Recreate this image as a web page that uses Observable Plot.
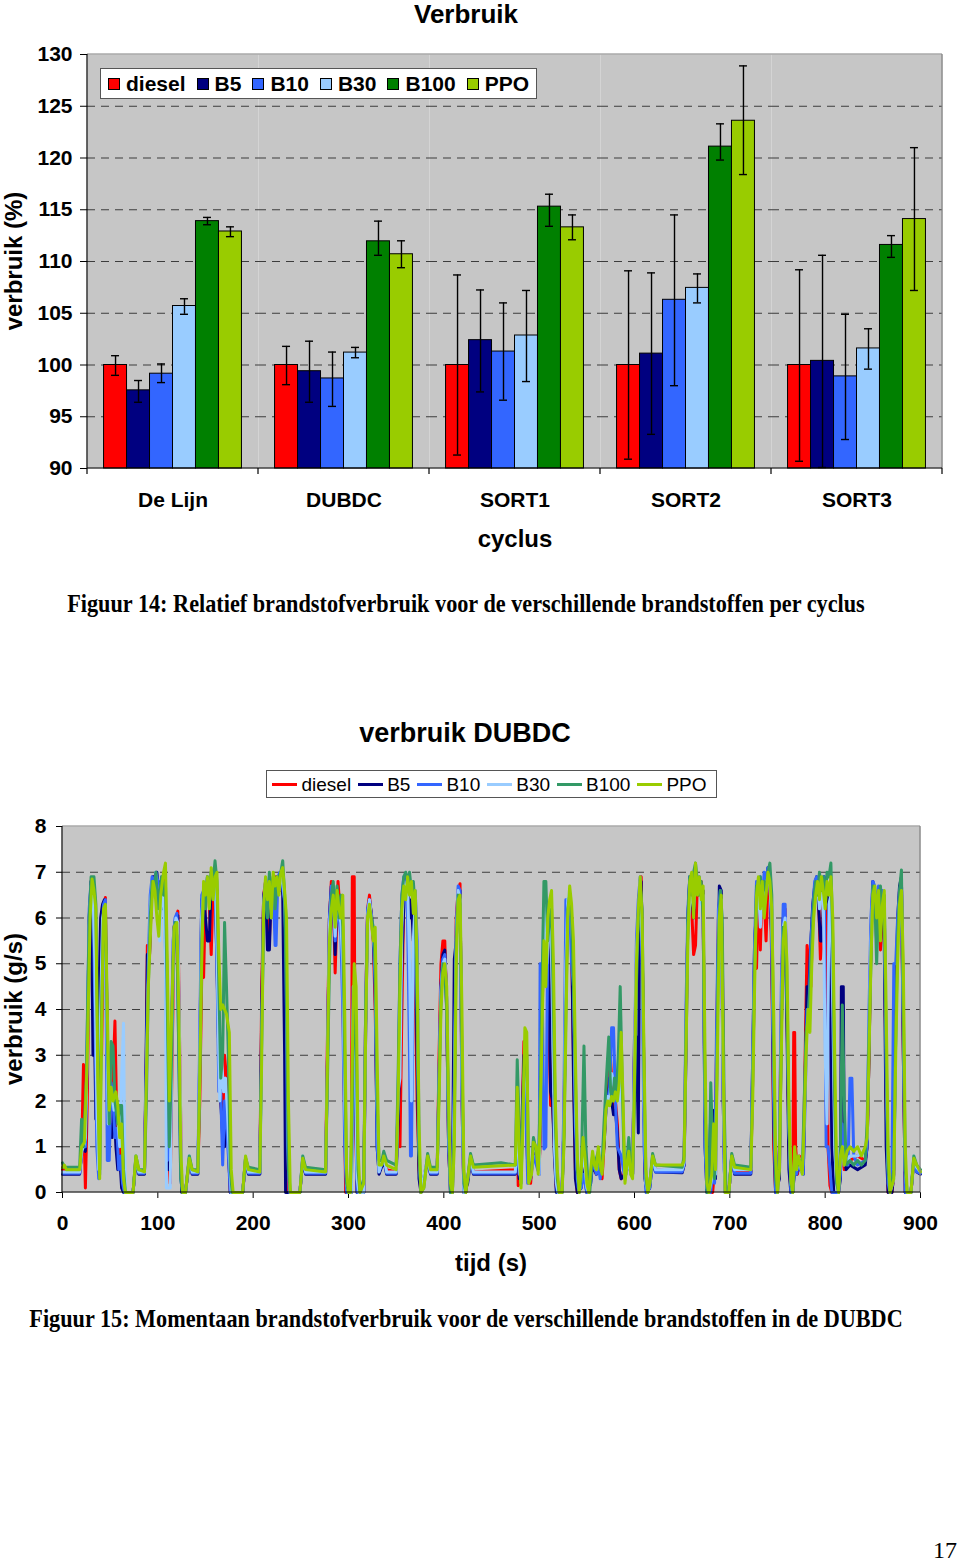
<!DOCTYPE html>
<html><head><meta charset="utf-8">
<script src="https://cdn.jsdelivr.net/npm/d3@7"></script>
<script src="https://cdn.jsdelivr.net/npm/@observablehq/plot@0.6"></script>
<style>
html,body{margin:0;padding:0;background:#fff;}
#page{position:relative;width:960px;height:1563px;overflow:hidden;font-family:'Liberation Sans',Arial,Helvetica,sans-serif;color:#000;}
.abs{position:absolute;white-space:nowrap;line-height:1;}
#page svg{position:absolute;left:0;}
.lg{position:absolute;background:#fff;border:1px solid #555;box-sizing:border-box;display:flex;align-items:center;}
.lg .it{display:flex;align-items:center;}
</style></head><body><div id="page"></div>
<script>
// ---------- Data: Figuur 14 (relatief verbruik, %) ----------
const cycli = ["De Lijn", "DUBDC", "SORT1", "SORT2", "SORT3"];
const brandstoffen = ["diesel", "B5", "B10", "B30", "B100", "PPO"];

const verbruikDiesel = [100, 100, 100, 100, 100];
const verbruikB5     = [97.55, 99.4, 102.4, 101.1, 100.4];
const verbruikB10    = [99.16, 98.7, 101.3, 106.3, 98.9];
const verbruikB30    = [105.7, 101.2, 102.85, 107.45, 101.6];
const verbruikB100   = [113.9, 111.95, 115.3, 121.1, 111.6];
const verbruikPPO    = [112.9, 110.7, 113.3, 123.6, 114.1];

const foutDiesel = [[99.0, 100.9], [98.1, 101.8], [91.3, 108.7], [90.9, 109.1], [90.7, 109.2]];
const foutB5     = [[96.4, 98.5], [96.4, 102.3], [97.4, 107.25], [93.3, 108.9], [90.1, 110.6]];
const foutB10    = [[98.3, 100.1], [96.0, 101.25], [96.6, 106.0], [98.0, 114.5], [92.8, 104.9]];
const foutB30    = [[104.9, 106.4], [100.7, 101.7], [98.4, 107.2], [106.0, 108.8], [99.6, 103.5]];
const foutB100   = [[113.55, 114.26], [110.6, 113.9], [113.4, 116.5], [119.8, 123.3], [110.4, 112.5]];
const foutPPO    = [[112.4, 113.35], [109.4, 112.0], [112.1, 114.5], [118.4, 128.9], [107.2, 121.0]];

const yTicksBalk = [90, 95, 100, 105, 110, 115, 120, 125, 130];

// ---------- Data: Figuur 15 (momentaan verbruik DUBDC, g/s) ----------
const reeksen = ["diesel", "B5", "B10", "B30", "B100", "PPO"];
const xTicksLijn = [0, 100, 200, 300, 400, 500, 600, 700, 800, 900];
const yTicksLijn = [0, 1, 2, 3, 4, 5, 6, 7, 8];

const lijnDiesel = [[0,0.5],[18,0.45],[20,0.8],[22,2.8],[23,1.0],[24,0.1],[26,2.0],[28,5.5],[30,6.8],[32,6.5],[34,5.0],[36,1.5],[38,3.0],[39,4.9],[41,3.0],[43,6.2],[45,6.45],[47,3.0],[49,1.2],[51,1.8],[53,2.5],[55,3.75],[57,1.5],[59,0.5],[61,1.0],[63,0.2],[65,0.0],[74,0.0],[77,0.75],[80,0.45],[86,0.45],[88,3.0],[89,5.4],[91,5.0],[93,6.3],[95,6.9],[97,6.5],[99,6.8],[101,6.2],[103,6.7],[105,6.4],[107,6.9],[109,5.5],[111,1.0],[113,0.2],[115,3.0],[117,5.5],[119,6.0],[121,6.15],[123,3.0],[125,0.2],[127,0.0],[129,0.0],[133,0.75],[136,0.45],[142,0.45],[144,2.0],[146,4.7],[148,4.7],[150,6.5],[152,6.8],[154,6.3],[156,5.2],[158,6.7],[160,6.9],[162,6.6],[164,4.0],[166,2.0],[168,1.5],[170,3.0],[172,2.5],[174,1.0],[176,0.0],[189,0.0],[192,0.75],[195,0.45],[207,0.45],[209,4.5],[211,6.5],[213,6.8],[215,6.5],[217,5.5],[219,6.7],[221,6.3],[223,6.9],[225,6.5],[227,6.8],[229,6.6],[231,6.9],[233,6.0],[235,1.0],[237,0.0],[249,0.0],[252,0.75],[255,0.45],[276,0.45],[278,3.5],[280,6.0],[282,6.8],[284,6.5],[286,4.8],[287,5.5],[289,6.8],[291,6.2],[293,6.0],[295,3.0],[297,0.0],[303,0.0],[304,6.9],[306,6.9],[307,2.0],[309,0.0],[316,0.0],[318,4.0],[320,6.2],[322,6.5],[324,6.0],[326,5.5],[328,4.0],[330,1.5],[332,0.5],[337,0.75],[340,0.5],[350,0.45],[352,1.9],[354,1.0],[356,4.0],[358,6.5],[360,6.8],[362,6.5],[364,6.2],[366,6.0],[368,6.3],[370,4.5],[372,2.0],[374,0.5],[376,0.0],[383,0.75],[386,0.45],[393,0.45],[395,3.0],[397,5.0],[399,5.5],[401,5.5],[403,4.0],[405,1.0],[407,0.0],[409,0.0],[411,2.0],[413,6.0],[415,6.6],[417,6.75],[419,2.0],[421,0.0],[423,0.0],[425,0.3],[428,0.75],[431,0.45],[475,0.5],[477,1.5],[478,0.15],[480,0.3],[482,1.5],[484,3.3],[486,2.5],[488,0.5],[491,0.2],[494,0.9],[497,0.8],[500,0.45],[502,2.0],[504,5.0],[506,6.5],[508,6.2],[510,4.0],[512,1.9],[514,2.0],[516,1.0],[518,0.1],[520,0.0],[524,0.0],[526,1.5],[528,5.0],[530,6.3],[532,6.5],[534,5.5],[536,3.0],[538,0.5],[540,0.0],[544,0.3],[546,0.7],[548,0.5],[550,0.0],[554,0.3],[556,0.6],[560,0.4],[562,0.8],[564,0.4],[566,0.3],[568,1.0],[570,2.0],[572,2.2],[574,3.2],[576,2.5],[578,1.8],[580,2.0],[582,1.5],[584,0.5],[586,0.3],[589,0.4],[592,0.7],[594,0.8],[596,0.4],[598,0.4],[600,3.0],[602,5.0],[603,5.5],[605,6.5],[607,6.9],[609,4.0],[611,0.5],[613,0.0],[616,0.2],[619,0.75],[622,0.5],[650,0.45],[652,0.6],[654,3.5],[656,6.0],[658,6.8],[660,6.2],[662,5.2],[664,5.4],[666,6.8],[668,6.5],[670,6.8],[672,6.0],[674,2.0],[676,0.0],[682,0.0],[684,0.5],[686,3.0],[688,6.0],[690,6.6],[692,5.5],[694,1.0],[696,0.0],[699,0.0],[702,0.75],[705,0.45],[722,0.45],[724,2.5],[726,5.0],[728,4.9],[730,6.7],[732,5.3],[734,6.8],[736,6.5],[738,5.5],[740,6.8],[742,7.0],[744,5.0],[746,1.0],[748,0.0],[750,0.0],[752,1.0],[754,4.0],[756,6.0],[758,6.2],[760,4.0],[762,1.0],[764,0.0],[766,0.0],[767,3.5],[768,3.5],[769,1.0],[771,0.4],[773,0.8],[775,0.5],[777,0.5],[779,3.0],[781,5.4],[783,5.0],[785,4.5],[787,6.0],[789,6.6],[791,6.8],[793,6.5],[795,5.1],[797,5.5],[799,6.8],[801,6.5],[803,1.0],[805,0.15],[807,0.0],[814,0.0],[816,0.7],[818,0.9],[820,0.5],[826,0.7],[834,0.8],[842,0.7],[844,1.0],[846,3.0],[848,5.5],[850,6.6],[852,6.3],[854,5.5],[856,6.4],[858,5.3],[860,6.0],[862,6.4],[864,2.0],[866,0.0],[870,0.0],[872,0.4],[874,4.0],[876,5.8],[878,6.5],[880,6.8],[882,3.0],[884,0.0],[890,0.0],[893,0.75],[896,0.5],[900,0.45]];

const lijnB5 = [[0,0.4],[18,0.4],[20,0.9],[22,1.0],[24,0.9],[26,3.0],[28,6.0],[30,6.8],[32,3.0],[34,3.0],[35,1.6],[37,1.6],[38,4.0],[40,6.0],[42,6.3],[44,6.4],[46,5.0],[48,1.0],[50,1.5],[52,1.2],[54,2.0],[56,1.0],[58,0.5],[60,0.8],[62,0.1],[64,0.0],[74,0.0],[77,0.7],[80,0.4],[86,0.4],[88,3.5],[89,5.2],[91,5.0],[93,6.4],[95,6.9],[97,6.6],[99,7.0],[101,6.5],[103,6.8],[105,6.2],[107,6.7],[109,4.0],[111,0.5],[113,0.6],[115,4.0],[117,5.8],[119,6.0],[121,6.05],[123,2.0],[125,0.0],[129,0.0],[133,0.7],[136,0.4],[142,0.4],[144,3.0],[146,6.4],[148,6.5],[150,6.0],[152,5.5],[154,5.5],[156,6.8],[158,7.0],[160,6.8],[162,5.0],[164,3.0],[166,2.0],[168,1.2],[170,1.0],[172,1.8],[174,1.0],[176,0.0],[189,0.0],[192,0.7],[195,0.4],[207,0.4],[209,4.0],[211,6.5],[213,6.7],[215,5.3],[217,5.3],[219,6.6],[221,6.8],[223,6.5],[225,6.9],[227,6.7],[229,7.0],[231,6.5],[233,3.0],[234,0.0],[249,0.0],[252,0.7],[255,0.4],[276,0.4],[278,3.0],[280,6.0],[282,6.7],[284,6.5],[286,5.2],[288,6.6],[290,6.3],[292,6.0],[294,5.5],[296,2.0],[298,0.0],[303,0.0],[305,4.5],[307,3.0],[309,0.0],[316,0.0],[318,3.5],[320,6.1],[322,6.4],[324,6.1],[326,5.6],[328,4.5],[330,1.0],[332,0.4],[337,0.7],[340,0.4],[350,0.4],[352,1.5],[354,3.0],[356,5.0],[358,6.3],[360,6.8],[362,6.9],[364,6.0],[366,6.4],[368,5.5],[370,6.0],[372,3.0],[374,0.3],[376,0.0],[383,0.7],[386,0.4],[393,0.4],[395,2.5],[397,4.5],[399,5.2],[401,5.3],[403,4.2],[405,1.0],[407,0.0],[409,0.0],[411,5.1],[413,5.5],[415,6.5],[417,6.6],[419,2.5],[421,0.0],[425,0.2],[428,0.7],[431,0.4],[475,0.4],[477,1.0],[479,0.3],[482,1.2],[484,3.0],[486,2.8],[488,0.4],[491,0.3],[494,0.9],[497,0.7],[500,0.4],[502,2.5],[504,5.0],[506,6.4],[508,6.0],[510,5.0],[512,2.2],[514,2.0],[516,0.8],[518,0.0],[524,0.0],[526,1.5],[528,4.5],[530,6.2],[532,6.4],[534,5.8],[536,2.5],[538,0.3],[540,0.0],[544,0.1],[546,0.5],[548,0.3],[550,0.0],[554,0.2],[556,0.6],[560,0.4],[562,0.7],[564,0.4],[568,1.0],[570,1.8],[572,2.0],[574,2.5],[576,2.0],[578,1.7],[580,1.8],[582,1.3],[584,0.5],[586,0.3],[590,0.4],[594,0.6],[598,0.4],[600,3.4],[602,3.4],[604,1.3],[605,5.0],[607,6.8],[609,4.0],[611,0.3],[613,0.0],[616,0.1],[619,0.7],[622,0.45],[650,0.43],[652,0.6],[654,3.0],[656,6.0],[658,6.9],[660,6.5],[662,6.0],[664,7.0],[666,6.6],[668,6.8],[670,6.5],[672,6.6],[674,1.0],[676,0.0],[678,0.0],[680,1.8],[682,1.8],[683,0.3],[685,0.3],[687,4.0],[689,6.7],[691,6.6],[693,2.0],[695,0.0],[699,0.0],[702,0.8],[705,0.4],[722,0.4],[724,3.0],[726,5.5],[728,6.2],[730,6.8],[732,6.2],[734,6.7],[736,6.4],[738,6.8],[740,7.1],[742,6.9],[744,5.5],[746,1.5],[748,0.0],[752,0.3],[754,3.5],[756,6.0],[758,6.0],[760,3.5],[762,0.5],[764,0.0],[766,0.0],[768,0.5],[770,0.4],[772,0.7],[774,0.5],[777,0.4],[779,2.5],[781,4.5],[783,4.5],[785,5.5],[787,6.3],[789,6.7],[791,6.9],[793,6.3],[795,5.5],[797,5.5],[799,6.9],[801,6.7],[803,6.5],[805,5.0],[807,1.0],[809,0.0],[814,0.0],[816,0.3],[817,4.5],[819,4.5],[820,0.8],[822,0.5],[826,0.6],[834,0.5],[842,0.6],[844,1.0],[846,3.0],[848,5.5],[850,6.8],[852,6.6],[854,5.8],[856,6.6],[858,6.0],[860,6.5],[862,5.5],[864,1.0],[866,0.0],[870,0.0],[872,0.4],[874,3.5],[876,6.0],[878,6.7],[880,6.9],[882,3.0],[884,0.0],[890,0.0],[893,0.7],[896,0.45],[900,0.4]];

const lijnB10 = [[0,0.42],[18,0.42],[20,0.8],[22,1.2],[24,1.0],[26,3.5],[28,6.2],[30,6.8],[32,6.5],[34,4.0],[36,1.0],[38,0.3],[39,0.4],[41,5.0],[43,6.3],[45,6.4],[47,0.7],[49,0.7],[51,2.4],[53,2.0],[55,1.2],[57,1.4],[59,0.5],[61,0.8],[63,0.2],[65,0.0],[74,0.0],[77,0.75],[80,0.42],[86,0.42],[88,3.0],[90,5.0],[92,6.5],[94,6.9],[96,6.7],[98,7.0],[100,6.8],[102,6.5],[104,6.9],[106,6.6],[108,6.0],[110,0.7],[112,0.8],[114,3.0],[116,5.5],[118,6.0],[120,6.1],[122,3.0],[124,0.3],[126,0.0],[129,0.0],[133,0.75],[136,0.42],[142,0.42],[144,3.5],[146,6.5],[148,6.6],[150,6.5],[152,6.9],[154,6.5],[156,7.0],[158,7.05],[160,6.9],[162,5.0],[164,2.2],[166,2.2],[168,0.6],[170,2.0],[172,1.5],[174,0.8],[176,0.0],[189,0.0],[192,0.75],[195,0.42],[207,0.42],[209,3.5],[211,6.4],[213,6.8],[215,6.5],[217,6.9],[219,6.0],[221,6.7],[223,5.4],[224,5.4],[226,6.9],[228,7.0],[230,6.8],[232,6.5],[234,6.2],[236,1.0],[238,0.0],[249,0.0],[252,0.75],[255,0.42],[276,0.42],[278,3.0],[280,6.0],[282,6.7],[284,6.3],[286,5.5],[288,6.4],[290,6.0],[292,5.6],[294,4.0],[296,1.0],[298,0.0],[303,0.0],[305,4.0],[307,2.5],[309,0.0],[316,0.0],[318,4.0],[320,6.2],[322,6.4],[324,6.0],[326,5.7],[328,4.5],[330,1.0],[332,0.45],[337,0.75],[340,0.42],[350,0.42],[352,2.0],[354,5.0],[356,6.5],[358,6.9],[360,6.7],[362,6.0],[364,3.0],[365,0.8],[366,0.8],[368,5.0],[370,6.6],[372,5.5],[374,1.0],[376,0.0],[383,0.75],[386,0.42],[393,0.42],[395,2.5],[397,4.5],[399,5.1],[401,5.2],[403,4.0],[405,1.0],[407,0.0],[409,0.0],[411,2.5],[413,5.8],[415,6.7],[417,6.6],[419,2.0],[421,0.0],[425,0.3],[428,0.75],[431,0.42],[475,0.42],[477,1.2],[479,0.4],[482,1.0],[484,2.5],[486,2.0],[488,0.2],[491,0.3],[494,0.8],[497,0.6],[500,0.4],[501,5.0],[503,5.0],[505,0.95],[507,1.0],[509,5.5],[511,6.2],[513,6.0],[515,3.0],[517,0.5],[519,0.0],[524,0.0],[526,2.0],[528,6.4],[530,6.4],[532,6.2],[534,5.0],[536,4.5],[538,1.5],[540,0.3],[541,0.1],[544,0.1],[546,0.4],[548,0.2],[550,0.0],[554,0.2],[556,0.7],[560,0.4],[562,0.6],[564,0.3],[568,1.2],[570,1.8],[572,2.0],[574,2.3],[576,3.6],[578,3.6],[580,2.0],[582,1.0],[584,0.9],[586,0.8],[590,0.3],[594,0.7],[598,0.4],[600,3.0],[602,5.5],[604,6.4],[606,6.9],[608,5.0],[610,1.0],[612,0.0],[616,0.1],[619,0.75],[622,0.45],[650,0.45],[652,0.6],[654,4.0],[656,6.2],[658,6.9],[660,6.6],[662,6.8],[664,7.0],[666,6.7],[668,6.9],[670,6.5],[672,6.2],[674,1.0],[676,0.0],[680,0.0],[682,0.5],[684,0.2],[686,3.5],[688,6.2],[690,6.6],[692,5.0],[694,0.5],[696,0.0],[699,0.0],[702,0.8],[705,0.42],[722,0.42],[724,3.0],[726,5.5],[728,6.8],[730,6.7],[732,6.9],[734,6.3],[736,7.0],[738,6.8],[740,7.1],[742,6.9],[744,5.5],[746,2.0],[748,0.0],[750,0.0],[752,1.0],[754,4.5],[756,6.3],[758,6.3],[760,4.5],[762,1.5],[764,0.0],[766,0.0],[768,0.6],[770,0.4],[772,0.7],[774,0.5],[777,0.4],[779,2.0],[781,4.0],[783,4.0],[785,5.5],[787,6.2],[789,6.8],[791,6.9],[793,6.6],[795,6.8],[797,6.5],[799,6.9],[801,1.0],[803,1.0],[805,0.5],[807,0.0],[814,0.0],[816,0.4],[818,1.5],[820,0.8],[824,0.6],[826,2.5],[828,2.5],[830,0.8],[834,0.6],[842,0.7],[844,1.0],[846,4.0],[848,6.0],[850,6.8],[852,6.7],[854,6.0],[856,6.7],[858,6.2],[860,6.6],[862,6.3],[864,2.5],[866,0.2],[868,0.0],[870,0.3],[872,5.0],[874,5.0],[876,6.0],[878,6.6],[880,6.8],[882,3.5],[884,0.0],[890,0.0],[893,0.75],[896,0.45],[900,0.42]];

const lijnB30 = [[0,0.45],[18,0.45],[20,0.9],[22,1.0],[24,1.2],[26,3.0],[28,5.8],[30,6.7],[32,6.6],[34,5.0],[36,2.0],[38,0.5],[40,4.0],[42,6.0],[44,6.2],[46,4.5],[48,1.5],[50,2.0],[52,2.2],[54,1.8],[56,2.0],[58,1.6],[60,1.0],[62,2.5],[64,3.7],[65,1.5],[66,0.0],[74,0.0],[77,0.8],[80,0.45],[86,0.45],[88,2.5],[90,4.5],[92,6.2],[94,6.8],[96,6.5],[98,6.9],[100,6.4],[102,5.5],[104,6.8],[106,6.5],[108,5.0],[109,0.1],[113,0.1],[115,3.5],[117,5.7],[119,6.0],[121,5.9],[123,3.0],[125,0.2],[127,0.0],[129,0.0],[133,0.8],[136,0.45],[142,0.45],[144,3.0],[146,6.0],[148,6.6],[150,6.4],[152,6.8],[154,6.3],[156,6.9],[158,6.6],[160,7.0],[162,5.5],[164,3.0],[165,2.0],[167,2.9],[169,2.2],[171,2.5],[173,1.8],[175,0.8],[177,0.0],[189,0.0],[192,0.8],[195,0.45],[207,0.45],[209,3.0],[211,6.2],[213,6.8],[215,6.2],[217,6.8],[219,6.2],[221,6.9],[223,6.4],[225,6.7],[227,6.6],[229,6.9],[231,6.8],[233,6.4],[235,5.0],[237,1.0],[239,0.0],[249,0.0],[252,0.8],[255,0.45],[276,0.45],[278,2.8],[280,5.8],[282,6.4],[284,6.6],[286,5.6],[288,6.5],[290,6.1],[292,5.9],[294,5.0],[296,2.0],[298,0.2],[300,0.0],[303,0.0],[305,4.5],[307,3.5],[309,0.3],[311,0.0],[316,0.0],[318,3.8],[320,6.0],[322,6.4],[324,6.0],[326,5.6],[328,5.2],[330,2.0],[332,0.45],[337,0.8],[340,0.45],[350,0.45],[352,2.2],[354,2.5],[356,5.8],[358,6.8],[360,6.5],[362,6.8],[364,5.0],[366,2.0],[368,5.5],[370,6.4],[372,4.5],[374,1.0],[376,0.0],[383,0.8],[386,0.45],[393,0.45],[395,2.5],[397,4.4],[399,5.0],[401,5.1],[403,4.2],[405,1.5],[407,0.0],[409,0.0],[411,2.0],[413,5.5],[415,6.6],[417,6.4],[419,2.5],[421,0.0],[425,0.3],[428,0.8],[431,0.45],[475,0.45],[477,1.8],[479,0.6],[481,0.2],[483,1.5],[485,3.0],[487,2.8],[489,0.3],[492,0.4],[494,1.0],[497,0.9],[500,0.4],[502,3.0],[504,5.5],[506,6.3],[508,5.0],[510,5.8],[512,6.2],[514,4.5],[516,1.0],[518,0.2],[520,0.0],[524,0.0],[526,1.5],[528,5.0],[530,6.4],[532,6.6],[534,6.0],[536,5.0],[538,2.0],[540,0.5],[542,0.0],[544,0.3],[546,0.9],[548,0.6],[550,0.1],[552,0.0],[554,0.4],[556,0.8],[560,0.5],[562,0.9],[564,0.5],[568,1.2],[570,1.9],[572,2.1],[574,2.0],[576,2.6],[578,2.4],[580,2.1],[582,2.3],[584,2.0],[586,2.5],[588,1.5],[590,0.3],[592,0.5],[594,0.8],[596,0.4],[598,0.35],[600,3.0],[602,5.2],[604,6.0],[606,6.8],[608,5.5],[610,2.0],[612,0.2],[614,0.0],[616,0.2],[619,0.8],[622,0.5],[650,0.5],[652,0.65],[654,3.5],[656,5.8],[658,6.3],[660,6.6],[662,6.2],[664,6.9],[666,6.6],[668,6.8],[670,6.3],[672,6.5],[674,2.0],[676,0.1],[678,0.0],[681,0.3],[683,1.2],[685,0.4],[687,3.5],[689,6.2],[691,6.4],[693,2.5],[695,0.0],[699,0.0],[702,0.8],[705,0.5],[722,0.5],[724,2.5],[726,5.0],[728,6.4],[730,6.7],[732,5.8],[734,6.6],[736,6.2],[738,6.7],[740,6.9],[742,6.7],[744,6.0],[746,3.0],[748,0.5],[750,0.0],[752,0.6],[754,3.8],[756,5.8],[758,6.0],[760,4.5],[762,1.5],[764,0.2],[766,0.0],[768,0.8],[770,0.5],[772,0.8],[774,0.6],[776,0.4],[778,1.8],[780,3.2],[782,3.8],[784,4.0],[786,5.3],[788,6.2],[790,6.6],[792,6.7],[794,6.2],[796,6.7],[798,6.5],[800,3.0],[802,1.5],[804,6.3],[806,6.5],[808,4.0],[810,1.0],[812,0.2],[814,0.0],[816,0.8],[818,1.0],[820,0.6],[826,0.8],[834,0.8],[842,0.9],[844,1.2],[846,3.5],[848,5.5],[850,6.6],[852,6.4],[854,5.5],[856,6.5],[858,5.8],[860,6.4],[862,6.5],[864,3.5],[866,0.6],[868,0.0],[872,0.3],[874,3.2],[876,5.2],[878,6.4],[880,6.7],[882,4.0],[884,0.5],[886,0.0],[890,0.0],[893,0.8],[896,0.55],[900,0.45]];

const lijnB100 = [[0,0.65],[2,0.55],[18,0.55],[20,1.6],[22,1.0],[25,2.5],[28,6.0],[30,6.9],[33,6.9],[35,6.3],[37,3.0],[39,0.5],[41,4.0],[43,6.0],[45,6.2],[47,3.5],[49,1.5],[51,3.3],[53,3.2],[55,2.0],[58,1.5],[60,1.9],[62,1.9],[64,0.5],[66,0.0],[74,0.0],[77,0.8],[80,0.5],[86,0.5],[88,2.0],[90,4.5],[92,6.0],[94,6.8],[96,6.6],[98,7.0],[100,6.2],[102,6.6],[104,6.9],[106,6.5],[108,6.8],[110,4.0],[112,1.0],[114,2.5],[116,5.0],[118,5.9],[120,5.6],[122,3.0],[124,0.3],[126,0.0],[129,0.0],[133,0.8],[136,0.5],[142,0.5],[144,2.5],[146,5.5],[148,6.6],[150,6.2],[152,6.9],[154,6.6],[156,7.0],[158,6.8],[160,7.25],[162,6.8],[164,4.5],[166,2.5],[168,3.0],[170,5.9],[172,4.5],[174,3.0],[176,0.5],[178,0.0],[189,0.0],[192,0.75],[195,0.55],[207,0.5],[209,3.5],[211,6.0],[213,6.8],[215,6.0],[217,7.0],[219,6.5],[221,6.9],[223,6.2],[225,6.8],[227,6.9],[229,7.0],[231,7.25],[233,6.5],[235,4.0],[237,0.5],[239,0.0],[249,0.0],[252,0.8],[255,0.55],[276,0.5],[278,2.5],[280,5.0],[282,6.5],[284,6.8],[286,6.0],[288,6.7],[290,6.0],[292,6.5],[294,5.8],[296,3.0],[298,0.2],[300,0.0],[302,0.0],[304,2.0],[306,4.5],[308,3.5],[310,0.5],[312,0.0],[316,0.3],[318,4.0],[320,6.0],[322,6.2],[324,6.0],[326,5.8],[328,5.0],[330,2.0],[332,0.7],[335,0.7],[337,0.9],[340,0.7],[350,0.6],[352,2.5],[354,5.0],[356,6.5],[358,6.9],[360,7.0],[362,6.8],[364,7.0],[366,6.6],[368,6.8],[370,6.2],[372,4.0],[374,0.8],[376,0.0],[379,0.1],[383,0.85],[386,0.55],[393,0.55],[395,2.5],[397,4.2],[399,5.0],[401,4.8],[403,4.0],[405,1.5],[407,0.0],[409,0.0],[411,1.5],[413,5.5],[415,6.5],[417,6.3],[419,3.0],[421,0.2],[423,0.0],[425,0.3],[428,0.85],[431,0.6],[460,0.65],[475,0.6],[477,2.9],[479,1.5],[481,0.2],[483,2.0],[485,3.3],[487,3.0],[489,0.3],[492,0.5],[494,1.2],[497,0.9],[499,0.5],[501,2.0],[503,4.5],[505,6.8],[507,6.8],[509,5.5],[511,6.0],[513,6.2],[515,4.0],[517,1.5],[519,0.3],[521,0.0],[524,0.0],[526,1.2],[528,4.0],[530,6.2],[532,6.5],[534,6.0],[536,4.5],[538,2.5],[540,0.5],[542,0.0],[544,0.3],[547,3.2],[549,1.0],[551,0.3],[553,0.0],[556,0.8],[558,0.6],[562,0.9],[564,0.5],[566,0.6],[568,1.5],[570,2.3],[573,3.4],[575,2.2],[577,2.0],[579,2.5],[581,2.2],[583,3.0],[585,4.5],[587,2.5],[589,0.8],[591,0.4],[594,1.2],[596,0.6],[598,0.4],[600,2.0],[602,4.5],[604,6.0],[606,6.7],[608,6.2],[610,2.5],[612,0.3],[614,0.0],[616,0.2],[619,0.85],[622,0.6],[650,0.55],[652,0.8],[654,3.5],[656,6.0],[658,6.9],[660,6.5],[662,7.0],[664,7.2],[666,6.8],[668,6.5],[670,6.8],[672,6.0],[674,2.0],[676,0.0],[678,0.0],[680,2.4],[682,1.0],[684,0.3],[686,2.0],[688,5.5],[690,6.6],[692,6.0],[694,2.0],[696,0.0],[699,0.0],[702,0.85],[705,0.6],[722,0.55],[724,2.5],[726,5.0],[728,6.7],[730,6.6],[732,6.9],[734,6.4],[736,6.8],[738,6.6],[740,7.0],[742,7.2],[744,6.5],[746,3.0],[748,0.3],[750,0.0],[752,0.8],[754,3.5],[756,5.8],[758,5.6],[760,4.0],[762,1.5],[764,0.2],[766,0.0],[768,0.6],[770,0.8],[772,0.6],[774,0.7],[776,0.5],[778,2.0],[780,3.5],[782,3.8],[784,4.5],[786,5.5],[788,6.4],[790,6.8],[792,6.5],[794,7.0],[796,6.6],[798,6.9],[800,6.4],[802,7.0],[804,6.9],[806,7.2],[808,5.5],[810,2.0],[812,0.2],[814,0.0],[816,1.0],[818,4.1],[820,2.0],[822,0.6],[826,0.7],[830,0.6],[834,0.7],[838,0.6],[842,0.7],[844,1.5],[846,3.5],[848,5.0],[850,6.7],[852,6.5],[854,5.0],[856,6.4],[858,6.7],[860,6.0],[862,6.5],[864,3.0],[866,0.5],[868,0.0],[872,0.5],[874,3.5],[876,5.5],[878,6.6],[880,7.05],[882,4.0],[884,0.5],[886,0.0],[890,0.0],[893,0.8],[896,0.6],[900,0.5]];

const lijnPPO = [[0,0.55],[2,0.6],[4,0.5],[18,0.5],[20,1.0],[23,1.1],[26,3.0],[29,6.0],[31,6.85],[33,6.6],[35,6.2],[37,2.5],[39,0.3],[41,3.5],[43,6.2],[45,6.3],[47,4.0],[49,1.8],[51,2.3],[53,2.0],[56,2.2],[58,1.9],[60,1.2],[62,1.5],[64,0.3],[66,0.0],[74,0.0],[77,0.8],[80,0.5],[86,0.45],[88,2.5],[90,4.5],[93,6.0],[95,6.8],[97,6.6],[99,6.0],[101,5.6],[103,6.5],[106,7.0],[108,7.2],[110,5.0],[112,2.0],[114,3.5],[117,5.8],[120,5.9],[122,4.0],[124,1.0],[126,0.0],[129,0.0],[133,0.75],[136,0.5],[142,0.45],[144,2.5],[146,5.0],[148,6.8],[150,6.5],[152,6.9],[154,6.2],[156,7.1],[158,6.4],[160,6.9],[162,7.0],[164,5.2],[166,4.0],[168,4.1],[172,3.9],[175,3.5],[177,0.5],[179,0.0],[189,0.0],[192,0.8],[195,0.5],[207,0.45],[209,3.0],[211,6.3],[213,6.9],[215,6.4],[217,6.8],[219,6.0],[221,7.0],[223,6.7],[225,6.9],[227,6.5],[229,7.0],[231,7.1],[233,6.6],[235,6.0],[237,2.0],[239,0.0],[249,0.0],[252,0.75],[255,0.5],[276,0.45],[278,3.0],[280,5.5],[282,6.2],[284,6.5],[286,5.8],[288,6.6],[290,6.2],[292,6.0],[294,6.5],[296,4.0],[298,0.5],[300,0.0],[302,0.0],[304,3.0],[306,5.0],[308,4.5],[310,1.0],[312,0.0],[316,0.2],[318,3.5],[320,6.0],[322,6.3],[324,5.9],[326,5.5],[328,5.8],[330,3.0],[332,0.6],[335,0.6],[337,0.8],[340,0.6],[350,0.5],[352,2.0],[354,4.5],[356,6.2],[358,6.7],[360,6.4],[362,6.9],[364,6.5],[366,6.8],[368,6.1],[370,6.6],[372,5.0],[374,1.5],[376,0.0],[379,0.1],[383,0.8],[386,0.5],[393,0.5],[395,2.0],[397,4.0],[399,4.8],[401,5.0],[403,4.5],[405,2.0],[407,0.2],[409,0.0],[411,1.0],[413,5.0],[415,6.4],[417,6.5],[419,4.0],[421,0.5],[423,0.0],[425,0.3],[428,0.8],[431,0.55],[475,0.6],[477,2.3],[479,1.0],[481,0.1],[483,1.5],[485,3.6],[487,3.5],[489,0.2],[492,0.4],[494,1.1],[497,1.0],[499,0.4],[501,1.5],[503,3.5],[505,5.5],[507,4.5],[509,6.0],[511,6.4],[513,6.6],[515,5.0],[517,2.0],[519,0.5],[521,0.0],[524,0.0],[526,1.0],[528,3.5],[530,6.0],[532,6.7],[534,6.3],[536,5.5],[538,3.0],[540,0.8],[542,0.0],[544,0.5],[546,1.2],[548,0.8],[550,0.2],[552,0.0],[554,0.5],[556,0.9],[558,0.6],[560,0.5],[562,1.0],[564,0.6],[566,0.4],[568,1.0],[570,1.8],[572,2.0],[574,1.9],[576,2.1],[578,2.0],[580,2.2],[582,2.0],[584,2.4],[586,3.5],[588,2.0],[590,0.2],[592,0.6],[594,0.9],[596,0.4],[598,0.3],[600,2.5],[602,5.0],[604,6.2],[606,6.9],[608,6.0],[610,3.0],[612,0.5],[614,0.0],[616,0.2],[619,0.8],[622,0.6],[650,0.6],[652,0.7],[654,3.0],[656,5.5],[658,6.8],[660,7.0],[662,6.0],[664,7.2],[666,6.5],[668,6.9],[670,6.4],[672,6.7],[674,3.0],[676,0.2],[678,0.0],[681,0.4],[683,1.5],[685,0.5],[687,3.0],[689,6.0],[691,6.5],[693,3.0],[695,0.0],[699,0.0],[702,0.8],[705,0.55],[722,0.5],[724,2.0],[726,4.5],[728,6.5],[730,6.9],[732,6.2],[734,6.8],[736,6.0],[738,6.5],[740,7.0],[742,6.8],[744,6.2],[746,4.0],[748,0.8],[750,0.0],[752,0.5],[754,3.0],[756,5.5],[758,5.9],[760,5.0],[762,2.0],[764,0.3],[766,0.0],[768,1.0],[770,0.5],[772,0.8],[774,0.6],[776,0.4],[778,1.5],[780,3.0],[782,4.0],[784,3.5],[786,5.0],[788,6.0],[790,6.5],[792,6.8],[794,6.4],[796,6.9],[798,6.6],[800,6.2],[802,6.8],[804,6.5],[806,6.9],[808,6.0],[810,3.0],[812,0.5],[814,0.0],[816,0.8],[818,1.0],[820,0.6],[823,0.9],[826,1.0],[830,0.9],[834,1.0],[838,0.8],[842,1.0],[844,1.2],[846,3.0],[848,5.0],[850,6.5],[852,6.7],[854,6.0],[856,6.6],[858,5.5],[860,6.3],[862,6.6],[864,4.0],[866,1.0],[868,0.0],[872,0.3],[874,3.0],[876,5.0],[878,6.3],[880,6.6],[882,5.0],[884,1.0],[886,0.0],[890,0.0],[893,0.75],[896,0.6],[900,0.45]];

// ---------- Styles ----------
const kleurenBalk = ["#ff0000", "#000080", "#3366ff", "#99ccff", "#008000", "#99cc00"];
const kleurenLijn = ["#ff0000", "#000080", "#3366ff", "#99ccff", "#339966", "#99cc00"];
const BG = "#c6c6c6";
const GRID = "#3c3c3c";
const FONT = "'Liberation Sans', Arial, Helvetica, sans-serif";
const SERIF = "'Liberation Serif', 'Times New Roman', serif";

const page = document.getElementById("page");

function txt(s, x, y, css, extra) {
  const d = document.createElement("div");
  d.className = "abs";
  d.textContent = s;
  d.style.left = x + "px";
  d.style.top = y + "px";
  Object.assign(d.style, css);
  d.style.transform = "translate(-50%,-50%) " + (extra || "");
  page.appendChild(d);
  return d;
}
function fitWidth(d, target) {
  const w = d.offsetWidth;
  d.style.transform = "translate(-50%,-50%) scaleX(" + (target / w) + ")";
}

// ---------- Figuur 14 ----------
const verbruik = [verbruikDiesel, verbruikB5, verbruikB10, verbruikB30, verbruikB100, verbruikPPO];
const fout = [foutDiesel, foutB5, foutB10, foutB30, foutB100, foutPPO];
const rows = [];
cycli.forEach((c, i) => brandstoffen.forEach((b, j) => rows.push({
  cyclus: c, brandstof: b, waarde: verbruik[j][i], lo: fout[j][i][0], hi: fout[j][i][1]
})));

const axisStyle = {background: "transparent", fontFamily: FONT, fontSize: "21px", fontWeight: "bold", color: "#000", overflow: "visible"};

const top1 = Plot.plot({
  width: 960, height: 560,
  marginTop: 54, marginBottom: 92, marginLeft: 87, marginRight: 18,
  style: axisStyle,
  facet: {data: rows, x: "cyclus"},
  fx: {domain: cycli, padding: 0, round: false, label: null, axis: "bottom", tickSize: 0, tickPadding: 24},
  x: {domain: brandstoffen, paddingInner: 0, paddingOuter: 0.72, round: false, axis: null},
  y: {domain: [90, 130], ticks: yTicksBalk, label: null, tickSize: 7, tickPadding: 8},
  color: {domain: brandstoffen, range: kleurenBalk},
  marks: [
    Plot.frame({fill: BG, stroke: "none"}),
    Plot.ruleY(yTicksBalk.slice(1, -1), {stroke: GRID, strokeDasharray: "8,6", strokeWidth: 1}),
    Plot.barY(rows, {x: "brandstof", y1: 90, y2: "waarde", fill: "brandstof", stroke: "#000", strokeWidth: 1}),
    Plot.ruleX(rows, {x: "brandstof", y1: "lo", y2: "hi", stroke: "#000", strokeWidth: 1.4}),
    Plot.tickY(rows, {x: "brandstof", y: "lo", stroke: "#000", strokeWidth: 1.4, insetLeft: 7.5, insetRight: 7.5}),
    Plot.tickY(rows, {x: "brandstof", y: "hi", stroke: "#000", strokeWidth: 1.4, insetLeft: 7.5, insetRight: 7.5})
  ]
});
top1.style.top = "0px";
page.appendChild(top1);

function frameLines(svg, xr, yr, bands) {
  const g = d3.select(svg).append("g");
  const [x0, x1] = [Math.min(...xr), Math.max(...xr)];
  const [yT, yB] = [Math.min(...yr), Math.max(...yr)];
  g.append("line").attr("x1", x0).attr("x2", x1).attr("y1", yT).attr("y2", yT).attr("stroke", "#808080").attr("stroke-width", 1.2);
  g.append("line").attr("x1", x1).attr("x2", x1).attr("y1", yT).attr("y2", yB).attr("stroke", "#808080").attr("stroke-width", 1.2);
  g.append("line").attr("x1", x0).attr("x2", x1).attr("y1", yB).attr("y2", yB).attr("stroke", "#000").attr("stroke-width", 1.2);
  g.append("line").attr("x1", x0).attr("x2", x0).attr("y1", yT).attr("y2", yB).attr("stroke", "#000").attr("stroke-width", 1.2);
  if (bands) {
    for (let i = 0; i <= bands; i++) {
      const x = x0 + i * (x1 - x0) / bands;
      g.append("line").attr("x1", x).attr("x2", x).attr("y1", yB).attr("y2", yB + 6).attr("stroke", "#000").attr("stroke-width", 1.2);
    }
  }
}
{
  const fxs = top1.scale("fx");
  const ys = top1.scale("y");
  frameLines(top1, fxs.range, ys.range, cycli.length);
}

// ---------- Figuur 15 ----------
const lijnen = [lijnDiesel, lijnB5, lijnB10, lijnB30, lijnB100, lijnPPO];
const bottom = Plot.plot({
  width: 960, height: 440,
  marginTop: 26, marginBottom: 48, marginLeft: 62, marginRight: 40,
  style: axisStyle,
  x: {domain: [0, 900], ticks: xTicksLijn, label: null, tickSize: 6, tickPadding: 17},
  y: {domain: [0, 8], ticks: yTicksLijn, label: null, tickSize: 6, tickPadding: 10},
  marks: [
    Plot.frame({fill: BG, stroke: "none"}),
    Plot.ruleY(yTicksLijn.slice(1, -1), {stroke: GRID, strokeDasharray: "8,6", strokeWidth: 1}),
    ...lijnen.map((d, i) => Plot.line(d, {x: p => p[0], y: p => p[1], stroke: kleurenLijn[i], strokeWidth: 3, strokeLinejoin: "round", strokeLinecap: "round"}))
  ]
});
bottom.style.top = "800px";
page.appendChild(bottom);
{
  const xs = bottom.scale("x");
  const ys = bottom.scale("y");
  frameLines(bottom, xs.range, ys.range, 0);
}

// ---------- Titles, labels, legends, captions ----------
const bold = (size) => ({fontFamily: FONT, fontWeight: "bold", fontSize: size + "px"});

txt("Verbruik", 466, 14, bold(26));
txt("verbruik (%)", 14, 261, bold(24), "rotate(-90deg)");
txt("cyclus", 515, 539, bold(24));
const cap1 = txt("Figuur 14: Relatief brandstofverbruik voor de verschillende brandstoffen per cyclus", 466, 603,
  {fontFamily: SERIF, fontWeight: "bold", fontSize: "25px"});
fitWidth(cap1, 798);

txt("verbruik DUBDC", 465, 733, bold(27));
txt("verbruik (g/s)", 14, 1009, bold(24), "rotate(-90deg)");
txt("tijd (s)", 491, 1263, bold(24));
const cap2 = txt("Figuur 15: Momentaan brandstofverbruik voor de verschillende brandstoffen in de DUBDC", 466, 1318,
  {fontFamily: SERIF, fontWeight: "bold", fontSize: "25px"});
fitWidth(cap2, 873);
txt("17", 945, 1550, {fontFamily: SERIF, fontSize: "24px"});

// legend 1 (bars)
{
  const lg = document.createElement("div");
  lg.className = "lg";
  Object.assign(lg.style, {left: "100px", top: "68px", width: "437px", height: "31px", paddingLeft: "7px"});
  brandstoffen.forEach((b, i) => {
    const it = document.createElement("div");
    it.className = "it";
    const sw = document.createElement("span");
    Object.assign(sw.style, {display: "inline-block", width: "12px", height: "12px", boxSizing: "border-box", border: "1px solid #000", background: kleurenBalk[i], marginRight: "6px"});
    const t = document.createElement("span");
    t.textContent = b;
    Object.assign(t.style, {fontFamily: FONT, fontWeight: "bold", fontSize: "21px", lineHeight: "1", marginRight: "11px"});
    it.appendChild(sw); it.appendChild(t);
    lg.appendChild(it);
  });
  page.appendChild(lg);
}
// legend 2 (lines)
{
  const lg = document.createElement("div");
  lg.className = "lg";
  Object.assign(lg.style, {left: "266px", top: "770px", width: "451px", height: "28px", paddingLeft: "5px"});
  reeksen.forEach((b, i) => {
    const it = document.createElement("div");
    it.className = "it";
    const sw = document.createElement("span");
    Object.assign(sw.style, {display: "inline-block", width: "25px", height: "3px", background: kleurenLijn[i], marginRight: "4.5px"});
    const t = document.createElement("span");
    t.textContent = b;
    Object.assign(t.style, {fontFamily: FONT, fontSize: "19px", lineHeight: "1", marginRight: "6.5px"});
    it.appendChild(sw); it.appendChild(t);
    lg.appendChild(it);
  });
  page.appendChild(lg);
}
</script></body></html>
